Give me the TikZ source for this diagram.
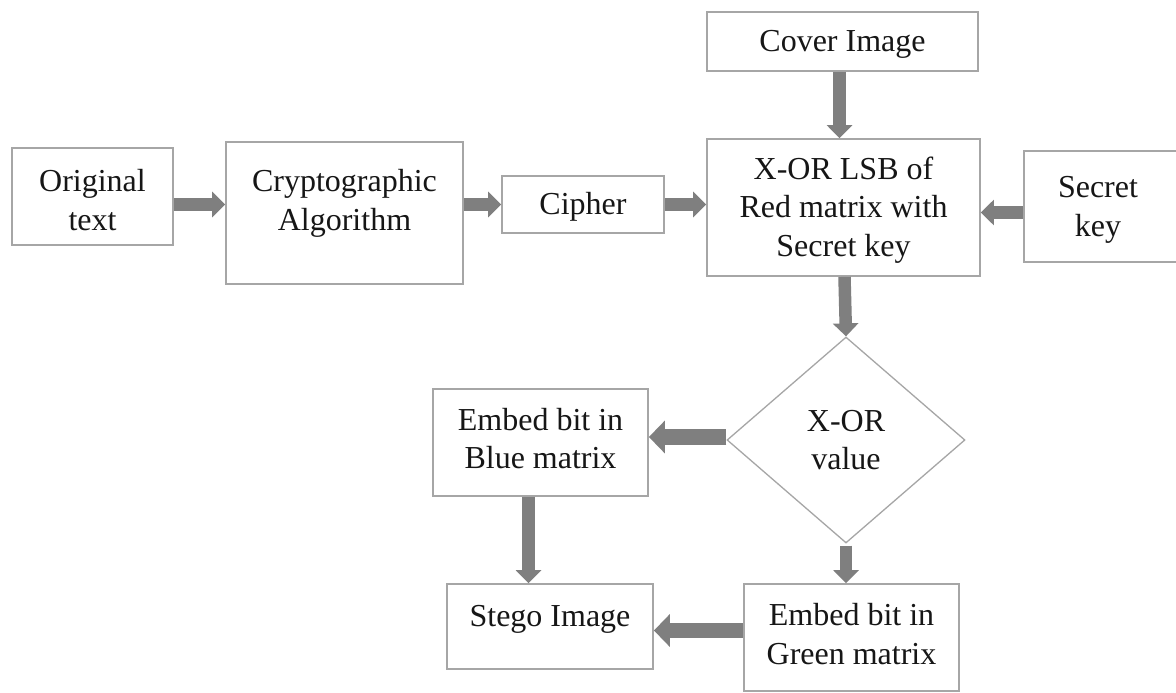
\documentclass[tikz,border=0pt]{standalone}
\usepackage{fontspec}
\setmainfont{Liberation Serif}
\usetikzlibrary{shapes.geometric,arrows.meta}
\definecolor{boxline}{HTML}{A6A6A6}
\definecolor{arrowfill}{HTML}{7F7F7F}
\definecolor{txt}{HTML}{161616}
\tikzset{
  box/.style={draw=boxline, line width=1.8pt, rectangle, inner sep=0pt},
  label text/.style={inner sep=0pt, align=center, text=txt, font=\fontsize{32}{38.5}\selectfont},
  barrow/.style={draw=arrowfill, line width=12.5pt, -{Triangle[length=13pt,width=25pt]}},
  bigarrow/.style={draw=arrowfill, line width=15.5pt, -{Triangle[length=16pt,width=32pt]}},
}
\begin{document}
\begin{tikzpicture}[x=1pt,y=-1pt]
\useasboundingbox (0,0) rectangle (1176,693);
\fill[white] (0,0) rectangle (1176,693);
% boxes
\node[box, minimum width=161pt, minimum height=97pt] (orig) at (92.5,196.5) {};
\node[label text] (origtext) at (92.5,200) {Original\\text};
\node[box, minimum width=237pt, minimum height=142pt] (crypto) at (344.5,213) {};
\node[label text] (cryptotext) at (344.5,203.5) {Cryptographic\\Algorithm};
\node[box, minimum width=162pt, minimum height=57pt] (cipher) at (583,204.5) {};
\node[label text] (ciphertext) at (583,207) {Cipher};
\node[box, minimum width=271pt, minimum height=59pt] (cover) at (842.5,41.5) {};
\node[label text] (covertext) at (842.5,44) {Cover Image};
\node[box, minimum width=273pt, minimum height=137pt] (xor) at (843.5,207.5) {};
\node[label text] (xortext) at (843.5,210) {X-OR LSB of\\Red matrix with\\Secret key};
\node[box, minimum width=156pt, minimum height=111pt] (secret) at (1102,206.5) {};
\node[label text] (secrettext) at (1098,210) {Secret\\key};
\node[draw=boxline, line width=1.3pt, diamond, shape aspect=1.155, inner sep=0pt,
  minimum width=238pt, minimum height=206pt] (dia) at (846,440) {};
\node[label text] (diatext) at (846,440) {X-OR\\value};
\node[box, minimum width=215pt, minimum height=107pt] (blue) at (540.5,442.5) {};
\node[label text] (bluetext) at (540.5,438.5) {Embed bit in\\Blue matrix};
\node[box, minimum width=206pt, minimum height=85pt] (stego) at (550,626.5) {};
\node[label text] (stegotext) at (550,619) {Stego Image};
\node[box, minimum width=215pt, minimum height=107pt] (green) at (851.5,637.5) {};
\node[label text] (greentext) at (851.5,634) {Embed bit in\\Green matrix};
% connectors
\draw[barrow] (orig.east |- cipher.west) -- (crypto.west |- cipher.west);
\draw[barrow] (crypto.east |- cipher.west) -- (cipher.west);
\draw[barrow] (cipher.east) -- (xor.west |- cipher.east);
\draw[barrow] ([xshift=-3pt]cover.south) -- ([xshift=-4pt]xor.north);
\draw[barrow] ([yshift=-6pt]secret.west) -- ([yshift=-6pt]secret.west -| xor.east);
\draw[barrow] ([xshift=1pt]xor.south) -- (dia.north);
\draw[bigarrow] ([yshift=3pt]dia.west) -- ([yshift=3pt]dia.west -| blue.east);
\draw[barrow] ([yshift=-2pt]dia.south) -- (dia.south |- green.north);
\draw[barrow] ([xshift=-12pt]blue.south) -- ([xshift=-12pt]blue.south |- stego.north);
\draw[bigarrow] ([yshift=7pt]green.west) -- ([yshift=7pt]green.west -| stego.east);
\end{tikzpicture}
\end{document}
